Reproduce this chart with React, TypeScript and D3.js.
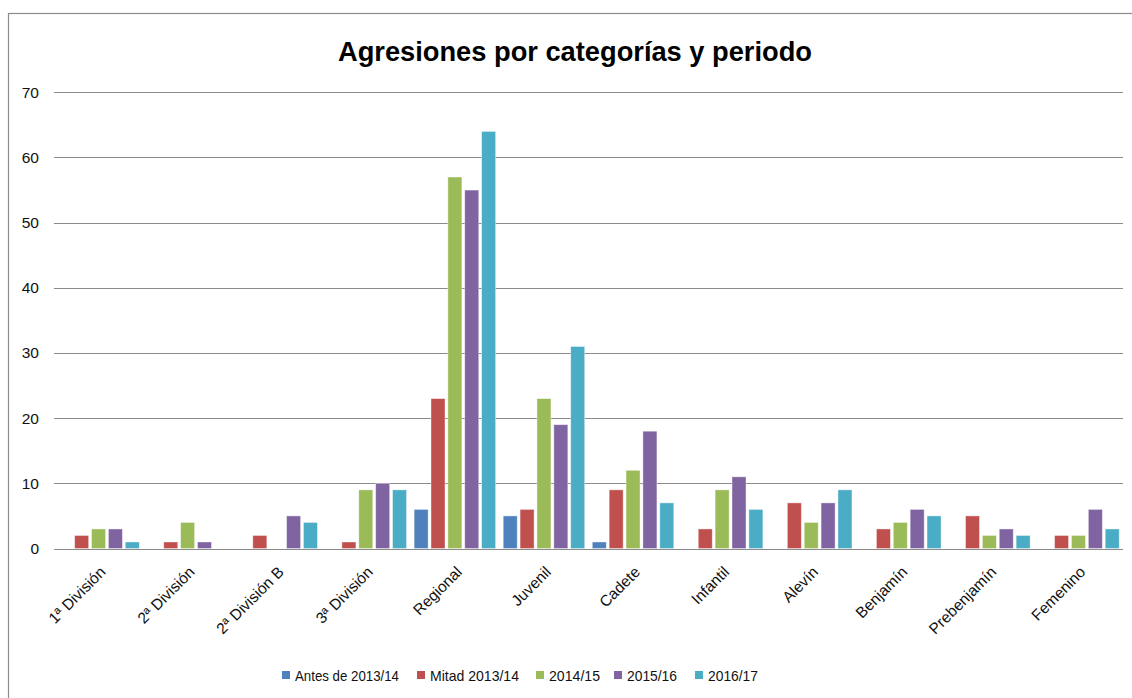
import React, { useEffect, useRef } from "react";
import * as d3 from "d3";

const categories = [
  "1ª División",
  "2ª División",
  "2ª División B",
  "3ª División",
  "Regional",
  "Juvenil",
  "Cadete",
  "Infantil",
  "Alevín",
  "Benjamín",
  "Prebenjamín",
  "Femenino",
];
const seriesNames = ["Antes de 2013/14", "Mitad 2013/14", "2014/15", "2015/16", "2016/17"];
const antes = [0, 0, 0, 0, 6, 5, 1, 0, 0, 0, 0, 0];
const mitad = [2, 1, 2, 1, 23, 6, 9, 3, 7, 3, 5, 2];
const s1415 = [3, 4, 0, 9, 57, 23, 12, 9, 4, 4, 2, 2];
const s1516 = [3, 1, 5, 10, 55, 19, 18, 11, 7, 6, 3, 6];
const s1617 = [1, 0, 4, 9, 64, 31, 7, 6, 9, 5, 2, 3];
const yTicks = [0, 10, 20, 30, 40, 50, 60, 70];
const colors = ["#4F81BD", "#C0504D", "#9BBB59", "#8064A2", "#4BACC6"];

const W = 1132;
const H = 698;
const FONT = "'Liberation Sans', Arial, sans-serif";

export default function App() {
  const ref = useRef<SVGSVGElement>(null);

  useEffect(() => {
    const svg = d3.select(ref.current);
    svg.selectAll("*").remove();
    const series = [antes, mitad, s1415, s1516, s1617];

    const left = 54, right = 1123, top = 92.3, bottom = 548.5;

    svg.append("rect").attr("x", 0).attr("y", 0).attr("width", W).attr("height", H).attr("fill", "#fff");
    svg.append("rect")
      .attr("x", 8.5).attr("y", 13.5).attr("width", W + 20).attr("height", H + 20)
      .attr("fill", "none").attr("stroke", "#8c8c8c").attr("stroke-width", 1.2);

    const y = d3.scaleLinear().domain([0, 70]).range([bottom, top]);
    const x0 = d3.scaleBand<string>().domain(categories).range([left, right]).padding(0);
    const groupW = x0.bandwidth() * 0.915;
    const x1 = d3.scaleBand<string>().domain(seriesNames).range([0, groupW]).paddingInner(0.17).paddingOuter(0);

    // gridlines
    svg.append("g").selectAll("line").data(yTicks).join("line")
      .attr("x1", left).attr("x2", right)
      .attr("y1", (d) => Math.round(y(d)) + 0.5).attr("y2", (d) => Math.round(y(d)) + 0.5)
      .attr("stroke", "#8a8a8a").attr("stroke-width", 1);

    svg.append("g").selectAll("text").data(yTicks).join("text")
      .attr("x", 39).attr("y", (d) => y(d) + 5.5)
      .attr("text-anchor", "end")
      .attr("font-family", FONT).attr("font-size", 15.5).attr("fill", "#111")
      .text((d) => d);

    // bars
    const gOff = (x0.bandwidth() - groupW) / 2;
    series.forEach((vals, si) => {
      svg.append("g").selectAll("rect").data(vals).join("rect")
        .attr("x", (_d, i) => (x0(categories[i]) as number) + gOff + (x1(seriesNames[si]) as number))
        .attr("width", x1.bandwidth())
        .attr("y", (d) => y(d))
        .attr("height", (d) => bottom - y(d))
        .attr("fill", colors[si])
        .attr("stroke", "#ffffff").attr("stroke-opacity", 0.5).attr("stroke-width", 0.8);
    });

    // axis line
    svg.append("line").attr("x1", left).attr("x2", right)
      .attr("y1", Math.round(bottom) + 0.5).attr("y2", Math.round(bottom) + 0.5)
      .attr("stroke", "#8a8a8a").attr("stroke-width", 1.2);

    // x labels
    svg.append("g").selectAll("text").data(categories).join("text")
      .attr("transform", (d) => `translate(${(x0(d) as number) + x0.bandwidth() / 2 + 8},${573}) rotate(-45)`)
      .attr("text-anchor", "end")
      .attr("font-family", FONT).attr("font-size", 15.5).attr("fill", "#111")
      .text((d) => d);

    // title
    svg.append("text")
      .attr("x", 338).attr("y", 61)
      .attr("textLength", 474).attr("lengthAdjust", "spacingAndGlyphs")
      .attr("font-family", FONT).attr("font-weight", "bold").attr("font-size", 27).attr("fill", "#000")
      .text("Agresiones por categorías y periodo");

    // legend
    const legendX = [282, 417, 536, 614, 695];
    const legendW = [104, 89, 51, 50, 50];
    const lg = svg.append("g").selectAll("g").data(seriesNames).join("g")
      .attr("transform", (_d, i) => `translate(${legendX[i]},671)`);
    lg.append("rect").attr("width", 8).attr("height", 8).attr("fill", (_d, i) => colors[i]);
    lg.append("text").attr("x", 13).attr("y", 9.5)
      .attr("textLength", (_d, i) => legendW[i]).attr("lengthAdjust", "spacingAndGlyphs")
      .attr("font-family", FONT).attr("font-size", 15).attr("fill", "#111")
      .text((d) => d);
  }, []);

  return (
    <svg
      ref={ref}
      width={W}
      height={H}
      style={{ position: "absolute", left: 0, top: 0, display: "block" }}
    />
  );
}
